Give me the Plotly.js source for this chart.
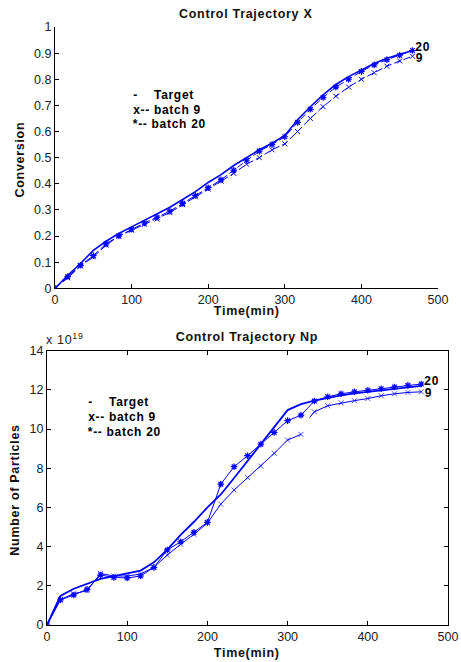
<!DOCTYPE html>
<html>
<head>
<meta charset="utf-8">
<script src="https://cdn.plot.ly/plotly-3.0.1.min.js"></script>
<style>
body{margin:0;padding:0;background:#fff}
#chart{width:461px;height:662px}
#chart text.annotation-text{letter-spacing:0.7px}
</style>
</head>
<body>
<div id="chart"></div>
<script>
// ---- data ----
var time = [0, 16.7, 33.3, 50, 66.7, 83.3, 100, 116.7, 133.3, 150, 166.7, 183.3, 200, 216.7, 233.3, 250, 266.7, 283.3, 300, 316.7, 333.3, 350, 366.7, 383.3, 400, 416.7, 433.3, 450, 466.7];

// Conversion (top)
var convTarget = [0, 0.05, 0.095, 0.145, 0.18, 0.21, 0.235, 0.26, 0.285, 0.31, 0.34, 0.37, 0.405, 0.435, 0.47, 0.5, 0.53, 0.555, 0.585, 0.645, 0.695, 0.74, 0.78, 0.81, 0.835, 0.86, 0.88, 0.895, 0.91];
var convBatch9 = [0, 0.04, 0.085, 0.12, 0.165, 0.2, 0.222, 0.245, 0.265, 0.29, 0.32, 0.35, 0.38, 0.41, 0.44, 0.475, 0.5, 0.53, 0.553, 0.6, 0.65, 0.695, 0.735, 0.77, 0.8, 0.825, 0.85, 0.87, 0.888];
var convBatch20 = [0, 0.045, 0.088, 0.125, 0.17, 0.2, 0.226, 0.25, 0.272, 0.295, 0.325, 0.355, 0.385, 0.415, 0.452, 0.49, 0.525, 0.55, 0.58, 0.635, 0.685, 0.73, 0.77, 0.8, 0.83, 0.855, 0.875, 0.892, 0.91];

// Number of particles (bottom, x 1e19)
var npTarget = [0, 1.48, 1.85, 2.1, 2.35, 2.5, 2.65, 2.78, 3.2, 3.85, 4.6, 5.27, 6.0, 6.66, 7.5, 8.35, 9.22, 10.1, 10.97, 11.27, 11.45, 11.6, 11.72, 11.82, 11.9, 11.97, 12.05, 12.12, 12.2];
var npBatch20 = [0, 1.28, 1.53, 1.82, 2.55, 2.43, 2.4, 2.5, 2.94, 3.83, 4.25, 4.73, 5.24, 7.19, 8.08, 8.64, 9.23, 9.83, 10.43, 10.71, 11.43, 11.65, 11.8, 11.9, 11.98, 12.06, 12.15, 12.23, 12.3];
var npTime9 = [0, 16.7, 33.3, 50, 66.7, 83.3, 100, 116.7, 133.3, 150, 166.7, 183.3, 200, 216.7, 233.3, 250, 266.7, 283.3, 300, 316.7, 322, 327.4, 333.3, 350, 366.7, 383.3, 400, 416.7, 433.3, 450, 466.7];
var npBatch9 = [0, 1.3, 1.6, 1.75, 2.63, 2.5, 2.5, 2.6, 2.95, 3.57, 4.12, 4.63, 5.2, 6.17, 6.89, 7.52, 8.11, 8.76, 9.44, 9.73, null, 10.58, 10.88, 11.19, 11.34, 11.45, 11.56, 11.7, 11.8, 11.87, 11.9];
var npMarker9 = [5, 5, 5, 5, 5, 5, 5, 5, 5, 5, 5, 5, 5, 5, 5, 5, 5, 5, 5, 5, 0, 0, 5, 5, 5, 5, 5, 5, 5, 5, 5];

var convTicks = [0, 0.1, 0.2, 0.3, 0.4, 0.5, 0.6, 0.7, 0.8, 0.9, 1];
var convTickText = ['0', '0.1', '0.2', '0.3', '0.4', '0.5', '0.6', '0.7', '0.8', '0.9', '1'];
var npTicks = [0, 2, 4, 6, 8, 10, 12, 14];
var timeTicks = [0, 100, 200, 300, 400, 500];

var legendLines = ['-    Target', 'x-- batch 9', '*-- batch 20'];

// ---- styling ----
var blue = '#0000ff';
var fontF = 'Liberation Sans, Arial, sans-serif';

var traces = [
  {x: time, y: convTarget, xaxis: 'x', yaxis: 'y', mode: 'lines', line: {color: blue, width: 1.6}},
  {x: time, y: convBatch9, xaxis: 'x', yaxis: 'y', mode: 'lines+markers', line: {color: blue, width: 1, dash: '7px,3px'},
   marker: {symbol: 'x-thin-open', size: 5, color: blue, line: {color: blue, width: 1}}},
  {x: time, y: convBatch20, xaxis: 'x', yaxis: 'y', mode: 'lines+markers', line: {color: blue, width: 1, dash: '7px,3px'},
   marker: {symbol: 'asterisk-open', size: 5.5, color: blue, line: {color: blue, width: 1.2}}},
  {x: time, y: npTarget, xaxis: 'x2', yaxis: 'y2', mode: 'lines', line: {color: blue, width: 1.8}},
  {x: npTime9, y: npBatch9, xaxis: 'x2', yaxis: 'y2', mode: 'lines+markers', connectgaps: false, line: {color: blue, width: 1},
   marker: {symbol: 'x-thin-open', size: npMarker9, color: blue, line: {color: blue, width: 1}}},
  {x: time, y: npBatch20, xaxis: 'x2', yaxis: 'y2', mode: 'lines+markers', line: {color: blue, width: 1},
   marker: {symbol: 'asterisk-open', size: 5.5, color: blue, line: {color: blue, width: 1.2}}}
];

var axBase = {
  showgrid: false, zeroline: false, showline: true, linecolor: '#000', linewidth: 1,
  ticks: 'inside', ticklen: 4, tickcolor: '#000', tickwidth: 1,
  tickfont: {family: fontF, size: 12.5, color: '#222'}, fixedrange: true
};
function ax(extra) { return Object.assign({}, axBase, extra); }

var annBold = {family: fontF, size: 12.5, color: '#111'};
function paperText(text, px, py, extra) {
  return Object.assign({text: text, xref: 'paper', yref: 'paper', x: px / 461, y: 1 - py / 662,
    xanchor: 'center', yanchor: 'middle', showarrow: false, font: annBold}, extra || {});
}
var annotations = [
  paperText('<b>Control Trajectory X</b>', 246, 14),
  paperText('<b>Control Trajectory Np</b>', 247, 337),
  paperText('<b>Time(min)</b>', 247, 311),
  paperText('<b>Time(min)</b>', 247, 653),
  paperText('<b>Conversion</b>', 20, 160, {textangle: -90}),
  paperText('<b>Number of Particles</b>', 15, 490, {textangle: -90}),
  paperText('x 10<sup>19</sup>', 46, 339, {xanchor: 'left', font: {family: fontF, size: 12.5, color: '#222'}}),
  {text: '<b>20</b>', xref: 'x', yref: 'y', x: time[time.length - 1], y: 0.925, xanchor: 'left', yanchor: 'middle', xshift: 2, showarrow: false, font: {family: fontF, size: 12, color: '#000'}},
  {text: '<b>9</b>', xref: 'x', yref: 'y', x: time[time.length - 1], y: 0.882, xanchor: 'left', yanchor: 'middle', xshift: 2, showarrow: false, font: {family: fontF, size: 12, color: '#000'}},
  {text: '<b>20</b>', xref: 'x2', yref: 'y2', x: time[time.length - 1], y: 12.45, xanchor: 'left', yanchor: 'middle', xshift: 2, showarrow: false, font: {family: fontF, size: 12, color: '#000'}},
  {text: '<b>9</b>', xref: 'x2', yref: 'y2', x: time[time.length - 1], y: 11.82, xanchor: 'left', yanchor: 'middle', xshift: 2, showarrow: false, font: {family: fontF, size: 12, color: '#000'}}
];
var legTop = [0.74, 0.683, 0.627];
var legBot = [11.4, 10.63, 9.86];
for (var i = 0; i < legendLines.length; i++) {
  annotations.push({text: '<b>' + legendLines[i] + '</b>', xref: 'x', yref: 'y', x: 105, y: legTop[i], xanchor: 'left', yanchor: 'middle', showarrow: false,
    font: {family: fontF, size: 12, color: '#000'}});
  annotations.push({text: '<b>' + legendLines[i] + '</b>', xref: 'x2', yref: 'y2', x: 53.5, y: legBot[i], xanchor: 'left', yanchor: 'middle', showarrow: false,
    font: {family: fontF, size: 12, color: '#000'}});
}

var layout = {
  width: 461, height: 662, margin: {l: 0, r: 0, t: 0, b: 0},
  paper_bgcolor: '#fff', plot_bgcolor: '#fff', showlegend: false,
  xaxis: ax({domain: [55 / 461, 438 / 461], range: [0, 500], tickvals: timeTicks, anchor: 'y'}),
  yaxis: ax({domain: [1 - 288.3 / 662, 1 - 27 / 662], range: [0, 1], tickvals: convTicks, ticktext: convTickText, anchor: 'x'}),
  xaxis2: ax({domain: [47 / 461, 448 / 461], range: [0, 500], tickvals: timeTicks, anchor: 'y2', mirror: 'ticks'}),
  yaxis2: ax({domain: [1 - 625 / 662, 1 - 350.7 / 662], range: [0, 14], tickvals: npTicks, anchor: 'x2', mirror: 'ticks'}),
  annotations: annotations
};

Plotly.newPlot('chart', traces, layout, {displayModeBar: false, staticPlot: true});
</script>
</body>
</html>
